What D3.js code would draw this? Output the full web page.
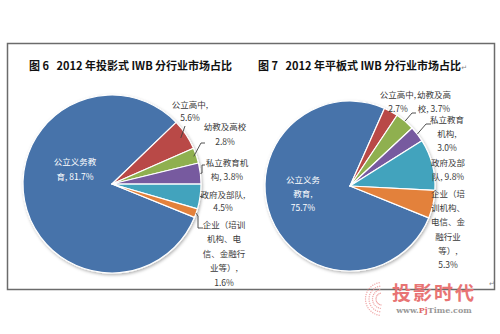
<!DOCTYPE html>
<html><head><meta charset="utf-8">
<script src="https://cdn.jsdelivr.net/npm/d3@7"></script>
<style>
html,body{margin:0;padding:0;background:#fff;}
svg{display:block;}
</style></head>
<body>
<svg id="c" width="500" height="334"></svg>
<script>
// ---- data ----
const categories = ["公立义务教育","公立高中","幼教及高校","私立教育机构","政府及部队","企业（培训机构、电信、金融行业等）"];
const projValues = [81.7, 5.6, 2.8, 3.8, 4.5, 1.6];
const flatValues = [75.7, 2.7, 3.7, 3.0, 9.8, 5.3];
const titles = ["图 6   2012 年投影式 IWB 分行业市场占比", "图 7   2012 年平板式 IWB 分行业市场占比"];
// label text (line-wrapped as in picture; last piece gets the percentage)
const projLabelLines = [["公立义务教","育, "],["公立高中,",""],["幼教及高校",""],["私立教育机","构, "],["政府及部队,",""],["企业（培训","机构、电","信、金融行","业等）,",""]];
const flatLabelLines = [["公立义务","教育,",""],["公立高中,",""],["幼教及高","校, "],["私立教育","机构,",""],["政府及部","队, "],["企业（培","训机构、","电信、金","融行业","等）,",""]];
const colors = ["#4673aa","#b94846","#8fb04f","#775a9f","#42a3bd","#e3813a"];

const svg = d3.select("#c");
const defs = svg.append("defs");
const f = defs.append("filter").attr("id","sh").attr("x","-20%").attr("y","-20%").attr("width","140%").attr("height","140%");
f.append("feDropShadow").attr("dx",1).attr("dy",1.5).attr("stdDeviation",1.5).attr("flood-color","#000").attr("flood-opacity",0.3);

// frame
svg.append("rect").attr("x",7.5).attr("y",43.5).attr("width",487).attr("height",246)
  .attr("fill","none").attr("stroke","#6b6b6b").attr("stroke-width",1.5);

const fontCJK = "'Noto Sans CJK SC','Noto Sans',sans-serif";

function drawPie(cfg){
  const g = svg.append("g").attr("transform",`translate(${cfg.cx},${cfg.cy})`);
  const pie = d3.pie().sort(null).value(d=>d)
    .startAngle(cfg.start).endAngle(cfg.start + 2*Math.PI);
  const arcs = pie(cfg.values);
  const arc = d3.arc().innerRadius(0).outerRadius(cfg.r);
  g.append("g").attr("filter","url(#sh)").selectAll("path").data(arcs).join("path")
    .attr("d",arc).attr("fill",(d,i)=>colors[i])
    .attr("stroke","#fff").attr("stroke-width",1.2).attr("stroke-linejoin","round");

  // leaders
  cfg.leaders.forEach(L=>{
    const a = arcs[L.i];
    const m = (a.startAngle + a.endAngle)/2;
    const p0 = [cfg.cx + Math.sin(m)*cfg.r*L.k, cfg.cy - Math.cos(m)*cfg.r*L.k];
    const pts = [p0].concat(L.pts);
    svg.append("path").attr("d",d3.line()(pts)).attr("fill","none")
      .attr("stroke","#404040").attr("stroke-width",0.9);
  });

  // labels
  cfg.labels.forEach((L,i)=>{
    const lines = cfg.lines[i].slice();
    lines[lines.length-1] = lines[lines.length-1] + cfg.values[i].toFixed(1) + "%";
    const t = svg.append("text").attr("font-family",fontCJK).attr("font-size",8.5)
      .attr("fill", i===0 ? "#ffffff" : "#3a3a3a").attr("text-anchor","middle");
    lines.forEach((s,j)=>{
      t.append("tspan").attr("x",L.x).attr("y",L.y + j*L.dy).text(s);
    });
  });

  const tt = svg.append("text").attr("x",cfg.tx).attr("y",70).attr("font-family",fontCJK)
    .attr("font-weight","bold").attr("font-size",11).attr("fill","#111")
    .attr("xml:space","preserve");
  tt.append("tspan").text(cfg.title);
  if(cfg.mark){
    tt.append("tspan").attr("font-weight","normal").attr("font-size",7)
      .attr("font-family","'DejaVu Sans',sans-serif").attr("fill","#888").text("↵");
  }
}

const deg = Math.PI/180;
drawPie({
  cx:112, cy:184, r:89, start:112*deg, values:projValues, lines:projLabelLines, title:titles[0], tx:29,
  labels:[{x:75,y:165,dy:15},{x:190,y:108,dy:13},{x:225,y:130,dy:15},{x:227,y:166,dy:14},{x:223,y:198,dy:13},{x:224,y:228,dy:14.4}],
  leaders:[{i:1,k:0.93,pts:[[185,126]]},{i:2,k:0.97,pts:[[201,143],[205,143]]},
           {i:3,k:1.0,pts:[[202,173],[202,165],[205,165]]},{i:4,k:1.0,pts:[[203,196]]},
           {i:5,k:1.0,pts:[[198,216],[198,228],[203,228]]}]
});
drawPie({
  cx:350, cy:186, r:85, start:112*deg, values:flatValues, lines:flatLabelLines, title:titles[1], tx:258, mark:true,
  labels:[{x:303,y:183,dy:14},{x:398,y:98,dy:14},{x:434,y:98,dy:14},{x:447,y:123,dy:14},{x:448,y:166,dy:14},{x:448,y:197,dy:14.2}],
  leaders:[{i:2,k:1.0,pts:[[412,113],[416,113]]},{i:3,k:1.0,pts:[[426,124],[431,124]]}]
});

// paragraph mark at frame corner
svg.append("text").attr("x",489).attr("y",286).attr("font-family","'DejaVu Sans',sans-serif")
  .attr("font-size",7).attr("fill","#888").text("↵");

// watermark
const wm = svg.append("g");
for(let k=0;k<4;k++){
  const rad = 6 + k*3.5;
  for(let a=100;a<=260;a+=14-k*2){
    wm.append("circle").attr("cx",382 + Math.cos(a*deg)*rad).attr("cy",299 + Math.sin(a*deg)*rad)
      .attr("r",0.7).attr("fill","#f0a8a8");
  }
}
wm.append("text").attr("x",434).attr("y",300).attr("text-anchor","middle")
  .attr("font-family",fontCJK).attr("font-weight","bold").attr("font-size",19)
  .attr("letter-spacing",2).attr("fill","#e87474").text("投影时代");
const w2 = wm.append("text").attr("x",434).attr("y",313).attr("text-anchor","middle")
  .attr("font-family","'DejaVu Serif',serif").attr("font-weight","bold").attr("font-size",8).attr("fill","#9a9a9a");
w2.append("tspan").text("www.");
w2.append("tspan").attr("fill","#e06a6a").text("Pj");
w2.append("tspan").text("Time.com");
</script>
</body></html>
